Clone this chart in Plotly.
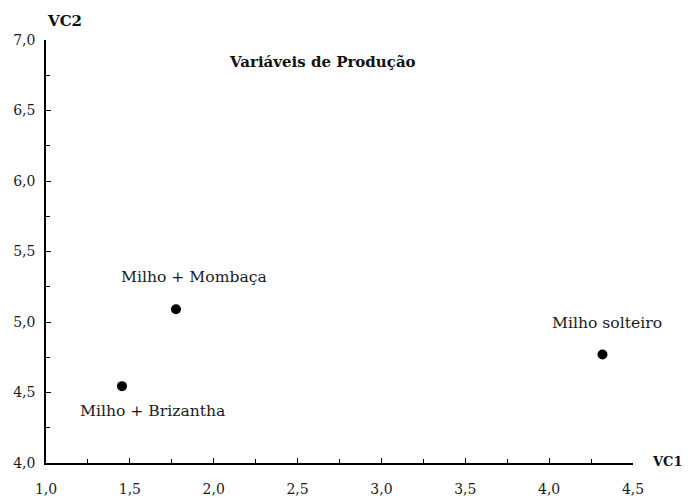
import plotly.graph_objects as go

treatments = ["Milho + Mombaça", "Milho + Brizantha", "Milho solteiro"]
vc1 = [1.775, 1.453, 4.318]
vc2 = [5.09, 4.545, 4.77]
x_ticks = [1.0, 1.5, 2.0, 2.5, 3.0, 3.5, 4.0, 4.5]
y_ticks = [4.0, 4.5, 5.0, 5.5, 6.0, 6.5, 7.0]

# label offsets in pixels (style, not data)
label_dx = [18, 31, 5]
label_dy = [32, -25, 31]

fmt = lambda v: f"{v:.1f}".replace(".", ",")
FONT = "DejaVu Serif"
TXT = "#1a1a1a"

fig = go.Figure()
fig.add_trace(go.Scatter(
    x=vc1, y=vc2, mode="markers",
    marker=dict(color="black", size=10),
    cliponaxis=False, showlegend=False,
))

annotations = [
    dict(text=name, x=x, y=y, xref="x", yref="y", xshift=dx, yshift=dy,
         showarrow=False, font=dict(family=FONT, size=15.6, color=TXT))
    for name, x, y, dx, dy in zip(treatments, vc1, vc2, label_dx, label_dy)
]
annotations += [
    dict(text="<b>Variáveis de Produção</b>", x=0.471, y=0.975, xref="paper", yref="paper",
         showarrow=False, font=dict(family=FONT, size=15, color="#111")),
    dict(text="<b>VC2</b>", x=0.0, y=1.0, xref="paper", yref="paper", xanchor="left", yanchor="bottom",
         xshift=-1, yshift=8, showarrow=False, font=dict(family=FONT, size=15, color="#111")),
    dict(text="<b>VC1</b>", x=1.0, y=0.0, xref="paper", yref="paper", xanchor="left", yanchor="middle",
         xshift=17, yshift=2, showarrow=False, font=dict(family=FONT, size=13, color="#111")),
]

fig.update_layout(
    width=682, height=489,
    margin=dict(l=38, r=57, t=32, b=34),
    paper_bgcolor="white", plot_bgcolor="white",
    font=dict(family=FONT, size=14, color=TXT),
    xaxis=dict(range=[1.0, 4.5], tickvals=x_ticks, ticktext=[fmt(v) for v in x_ticks],
               showgrid=False, zeroline=False, showline=True, linecolor="black", linewidth=1.5,
               ticks="inside", ticklen=5, tickcolor="black", automargin=False,
               minor=dict(dtick=0.25, ticks="inside", ticklen=4, tickcolor="black"),
               ticklabelstandoff=12),
    yaxis=dict(range=[4.0, 7.0], tickvals=y_ticks, ticktext=[fmt(v) for v in y_ticks],
               showgrid=False, zeroline=False, showline=True, linecolor="black", linewidth=1.5,
               ticks="inside", ticklen=5, tickcolor="black", automargin=False,
               minor=dict(dtick=0.25, ticks="inside", ticklen=4, tickcolor="black"),
               ticklabelstandoff=6),
    annotations=annotations,
)

fig.write_html("out.html")
